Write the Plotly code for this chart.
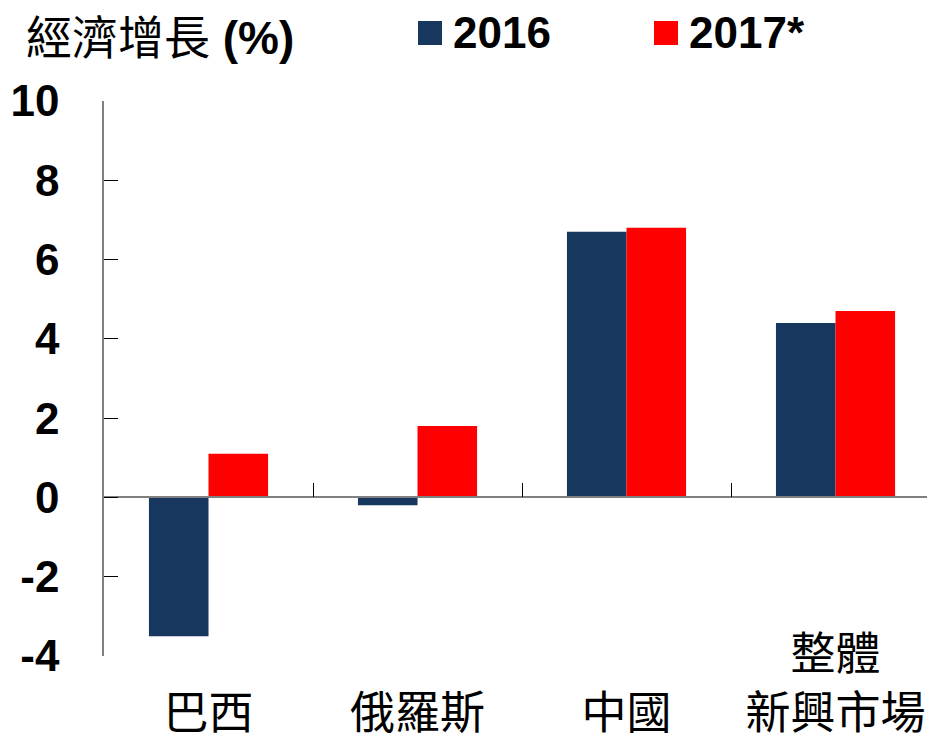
import plotly.graph_objects as go

categories = ["巴西", "俄羅斯", "中國", "整體新興市場"]
tick_labels = [" <br>巴西", " <br>俄羅斯", " <br>中國", "整體<br>新興市場"]
series_names = ["2016", "2017*"]
values_2016 = [-3.5, -0.2, 6.7, 4.4]
values_2017 = [1.1, 1.8, 6.8, 4.7]
series_colors = ["#17375E", "#FF0000"]
y_ticks = [-4, -2, 0, 2, 4, 6, 8, 10]
y_tick_text = ["-4", "-2", "0", "2", "4", "6", "8", "10"]
y_title = "經濟增長 <b>(%)</b>"

# page has an 8px body margin; figure sized to fit the window exactly
OFF = 8
W, H = 935 - OFF, 737 - OFF
ML, MR, MT, MB = 96, 0, 93, 81
plot_h = H - MT - MB
pw = W - ML - MR
ymin, ymax = -4, 10
xrange = [-0.5, 3.476]


def px(xpage):
    return (xpage - OFF - ML) / pw


def py(ypage):
    return (H - MB - (ypage - OFF)) / plot_h


fig = go.Figure()
for name, vals, col in zip(series_names, [values_2016, values_2017], series_colors):
    fig.add_trace(go.Bar(x=categories, y=vals, name=name, marker_color=col,
                         marker_line_width=0, showlegend=False))
# helper trace so the zero-axis overlay exists
fig.add_trace(go.Scatter(x=categories, y=[None] * len(categories), xaxis="x2",
                         showlegend=False, hoverinfo="skip"))

zero_pos = (0 - ymin) / (ymax - ymin)
label_pos = py(624)

fig.update_layout(
    width=W, height=H,
    margin=dict(l=ML, r=MR, t=MT, b=MB, autoexpand=False),
    plot_bgcolor="white", paper_bgcolor="white",
    barmode="group", bargap=0.43, bargroupgap=0,
    showlegend=False,
    xaxis=dict(type="category", categoryarray=categories, range=xrange,
               tickvals=categories, ticktext=tick_labels,
               anchor="free", position=label_pos, automargin=False,
               showline=False, ticks="", showgrid=False, zeroline=False,
               tickfont=dict(family="Noto Sans CJK TC", size=45, color="black")),
    xaxis2=dict(type="category", categoryarray=categories, range=xrange,
                overlaying="x", anchor="free", position=zero_pos, automargin=False,
                showline=True, linecolor="#808080", linewidth=1.5,
                ticks="inside", tickson="boundaries", ticklen=14,
                tickcolor="black", tickwidth=1.2,
                showticklabels=False, showgrid=False, zeroline=False),
    yaxis=dict(range=[ymin, ymax], tickvals=y_ticks, ticktext=y_tick_text,
               automargin=False,
               showline=True, linecolor="#808080", linewidth=1.5,
               ticks="inside", ticklen=14, tickcolor="black", tickwidth=1.2,
               showgrid=False, zeroline=False, ticklabelstandoff=34,
               tickfont=dict(family="Liberation Sans", size=44, color="black",
                             weight="bold")),
)

# title
fig.add_annotation(text=y_title, xref="paper", yref="paper",
                   x=px(24), xanchor="left",
                   y=py(38), yanchor="middle", showarrow=False,
                   font=dict(family="Liberation Sans, Noto Sans CJK TC", size=46,
                             color="black"))

# legend (manual, large square keys)
legend_x = [418, 654]
for name, col, lx in zip(series_names, series_colors, legend_x):
    fig.add_shape(type="rect", xref="paper", yref="paper",
                  x0=px(lx), x1=px(lx + 24), y0=py(45), y1=py(21),
                  fillcolor=col, line_width=0)
    fig.add_annotation(text=name, xref="paper", yref="paper",
                       x=px(lx + 33), xanchor="left",
                       y=py(33), yanchor="middle", showarrow=False,
                       font=dict(family="Liberation Sans", size=44, color="black",
                                 weight="bold"))

fig.write_html("out.html")
